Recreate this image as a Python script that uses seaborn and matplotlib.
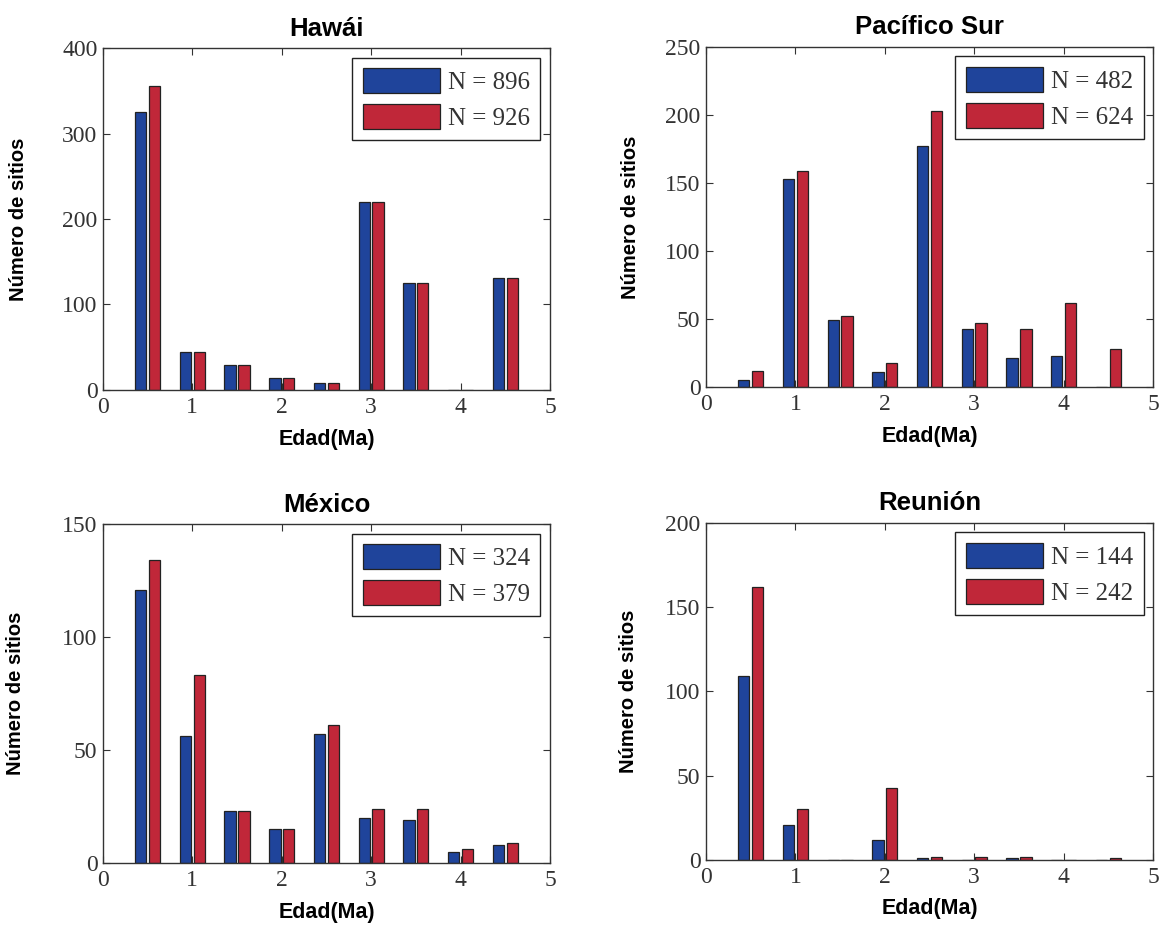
import matplotlib.pyplot as plt
import matplotlib.patches as mpatches
import pandas as pd
import seaborn as sns

# bin centres (Ma)
edad = [0.5, 1.0, 1.5, 2.0, 2.5, 3.0, 3.5, 4.0, 4.5]

# counts (blue = first series, red = second series)
hawai_azul = [325, 44, 29, 14, 8, 220, 125, 0, 131]
hawai_rojo = [355, 44, 29, 14, 8, 220, 125, 0, 131]
pacifico_azul = [5, 153, 49, 11, 177, 43, 21, 23, 0]
pacifico_rojo = [12, 159, 52, 18, 203, 47, 43, 62, 28]
mexico_azul = [121, 56, 23, 15, 57, 20, 19, 5, 8]
mexico_rojo = [134, 83, 23, 15, 61, 24, 24, 6, 9]
reunion_azul = [109, 21, 0, 12, 1, 0, 1, 0, 0]
reunion_rojo = [162, 30, 0, 43, 2, 2, 2, 0, 1]

titulos = ["Hawái", "Pacífico Sur", "México", "Reunión"]
leyendas = [["N = 896", "N = 926"], ["N = 482", "N = 624"],
            ["N = 324", "N = 379"], ["N = 144", "N = 242"]]
y_max = [400, 250, 150, 200]
y_paso = [100, 50, 50, 50]

AZUL = "#1F449B"
ROJO = "#C02739"
BORDE = "#222222"

sns.set_theme(style="ticks")
plt.rcParams["font.family"] = ["Liberation Serif", "DejaVu Serif"]
plt.rcParams["axes.edgecolor"] = "#333333"
plt.rcParams["axes.linewidth"] = 1.0
plt.rcParams["text.color"] = "black"

fig = plt.figure(figsize=(11.62, 9.25), dpi=100)

# axes rectangles in figure fractions (left, bottom, width, height)
rects = [
    [0.0886, 0.5784, 0.3847, 0.3697],
    [0.6076, 0.5816, 0.3847, 0.3676],
    [0.0886, 0.0670, 0.3847, 0.3665],
    [0.6076, 0.0703, 0.3847, 0.3643],
]
ylabel_x = [-0.188, -0.170, -0.195, -0.174]

series = [
    (hawai_azul, hawai_rojo),
    (pacifico_azul, pacifico_rojo),
    (mexico_azul, mexico_rojo),
    (reunion_azul, reunion_rojo),
]

sans = ["Liberation Sans", "DejaVu Sans"]

for i, (azul, rojo) in enumerate(series):
    ax = fig.add_axes(rects[i])
    df = pd.DataFrame({
        "edad": edad + edad,
        "sitios": azul + rojo,
        "serie": ["azul"] * len(edad) + ["rojo"] * len(edad),
    })
    sns.barplot(
        data=df, x="edad", y="sitios", hue="serie",
        native_scale=True,
        palette={"azul": AZUL, "rojo": ROJO}, saturation=1,
        width=0.62, gap=0.18,
        edgecolor=BORDE, linewidth=0.9,
        errorbar=None, legend=False, ax=ax,
    )

    ax.set_xlim(0, 5)
    ax.set_ylim(0, y_max[i])
    ax.set_xticks(range(0, 6))
    ax.set_xticklabels([str(v) for v in range(0, 6)])
    ax.set_yticks(range(0, y_max[i] + 1, y_paso[i]))
    ax.set_yticklabels([str(v) for v in range(0, y_max[i] + 1, y_paso[i])])
    ax.tick_params(direction="in", top=True, right=True, length=5, width=0.8,
                   labelsize=17, colors="#333333", labelcolor="#333333")
    ax.tick_params(axis="x", pad=5)
    ax.tick_params(axis="y", pad=4)
    for s in ax.spines.values():
        s.set_visible(True)

    ax.set_title(titulos[i], fontsize=18.5, fontweight="bold", family=sans,
                 pad=9, color="black")
    ax.set_xlabel("Edad(Ma)", fontsize=15.5, fontweight="bold", family=sans,
                  color="black")
    ax.set_ylabel("Número de sitios", fontsize=14.5, fontweight="bold",
                  family=sans, color="black")
    ax.xaxis.set_label_coords(0.5, -0.145)
    ax.xaxis.label.set_va("center")
    ax.yaxis.set_label_coords(ylabel_x[i], 0.5)
    ax.yaxis.label.set_va("center")

    handles = [mpatches.Patch(facecolor=AZUL, edgecolor=BORDE, linewidth=0.9),
               mpatches.Patch(facecolor=ROJO, edgecolor=BORDE, linewidth=0.9)]
    leg = ax.legend(handles, leyendas[i], loc="upper right", fontsize=18,
                    frameon=True, fancybox=False, shadow=False, framealpha=1,
                    edgecolor="#222222", handlelength=3.1, handleheight=1.15,
                    handletextpad=0.3, borderpad=0.42, labelspacing=0.4,
                    borderaxespad=0.38)
    leg.get_frame().set_linewidth(1.0)
    for t in leg.get_texts():
        t.set_color("#333333")

plt.savefig("out.png", dpi=100)
plt.close()
